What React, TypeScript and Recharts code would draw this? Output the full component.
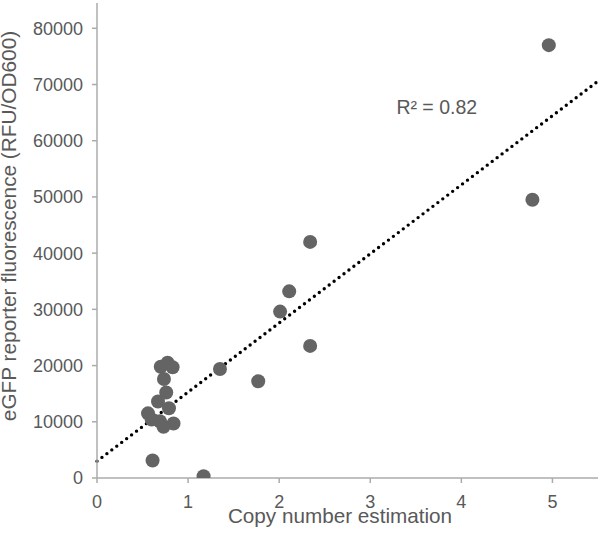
import React from 'react';
import {
  ScatterChart,
  Scatter,
  XAxis,
  YAxis,
  ReferenceLine,
  ReferenceDot,
} from 'recharts';

// measured copy number vs. reporter fluorescence
const copyNumber = [4.96, 4.78, 2.34, 2.11, 2.01, 2.34, 1.77, 1.35, 1.17, 0.61, 0.775, 0.7, 0.83, 0.735, 0.76, 0.67, 0.56, 0.79, 0.6, 0.73, 0.84, 0.69];
const fluorescence = [77000, 49500, 42000, 33200, 29600, 23500, 17200, 19400, 300, 3100, 20500, 19800, 19700, 17600, 15200, 13600, 11500, 12400, 10400, 9100, 9700, 10100];

// linear trendline end points
const trendX = [0, 5.5];
const trendY = [3000, 70600];

const xTicks = [0, 1, 2, 3, 4, 5];
const yTicks = [0, 10000, 20000, 30000, 40000, 50000, 60000, 70000, 80000];

const r2Label = 'R² = 0.82';
const r2Pos = { x: 3.73, y: 65900 };

const FONT = "Arial, 'Liberation Sans', sans-serif";
const TEXT = '#595959';
const AXIS = '#ababab';
const DOT = '#646464';

const points = copyNumber.map((x, i) => ({ x, y: fluorescence[i] }));

const Dot = (props: any) => <circle cx={props.cx} cy={props.cy} r={7} fill={DOT} />;

const YLabel = (props: any) => {
  const vb = props.viewBox;
  const cx = vb.x + 16;
  const cy = vb.y + vb.height / 2 - 14.5;
  return (
    <text
      x={cx}
      y={cy}
      transform={`rotate(-90 ${cx} ${cy})`}
      textAnchor="middle"
      fill={TEXT}
      fontSize={20.8}
      fontFamily={FONT}
    >
      eGFP reporter fluorescence (RFU/OD600)
    </text>
  );
};

const XLabel = (props: any) => {
  const vb = props.viewBox;
  return (
    <text
      x={vb.x + vb.width / 2 - 7.5}
      y={vb.y + 45}
      textAnchor="middle"
      fill={TEXT}
      fontSize={20.7}
      fontFamily={FONT}
    >
      Copy number estimation
    </text>
  );
};

export default function App() {
  return (
    <div style={{ position: 'absolute', left: 0, top: 0, background: '#fff' }}>
      <ScatterChart width={600} height={540} margin={{ top: 3, right: 2, bottom: 0, left: 0 }}>
        <XAxis
          type="number"
          dataKey="x"
          domain={[0, 5.5]}
          ticks={xTicks}
          allowDataOverflow
          height={62}
          stroke={AXIS}
          strokeWidth={1.5}
          tickSize={5}
          tickMargin={12}
          tick={{ fill: TEXT, fontSize: 18, fontFamily: FONT }}
          label={<XLabel />}
        />
        <YAxis
          type="number"
          dataKey="y"
          domain={[0, 84500]}
          ticks={yTicks}
          allowDataOverflow
          width={97}
          stroke={AXIS}
          strokeWidth={1.5}
          tickSize={5}
          tickMargin={9}
          tick={{ fill: TEXT, fontSize: 18, fontFamily: FONT }}
          label={<YLabel />}
        />
        <Scatter data={points} shape={<Dot />} isAnimationActive={false} />
        <ReferenceLine
          segment={[
            { x: trendX[0], y: trendY[0] },
            { x: trendX[1], y: trendY[1] },
          ]}
          stroke="#000"
          strokeWidth={3.4}
          strokeDasharray="0 6.2"
          strokeLinecap="round"
        />
        <ReferenceDot
          x={r2Pos.x}
          y={r2Pos.y}
          r={0}
          fill="none"
          stroke="none"
          label={{ value: r2Label, fill: TEXT, fontSize: 19.5, fontFamily: FONT, position: 'center' }}
        />
      </ScatterChart>
    </div>
  );
}
